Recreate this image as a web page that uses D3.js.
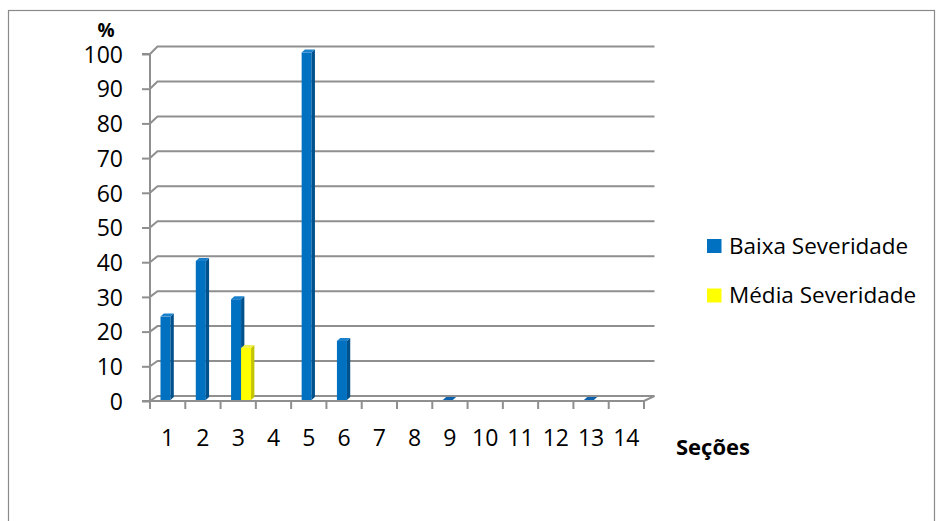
<!DOCTYPE html>
<html>
<head>
<meta charset="utf-8">
<script src="https://cdn.jsdelivr.net/npm/d3@7"></script>
<style>
  html, body { margin: 0; padding: 0; background: #fff; }
  svg { display: block; font-family: "Open Sans", "DejaVu Sans", sans-serif; }
</style>
</head>
<body>
<svg id="chart" width="936" height="521"></svg>
<script>
// Section numbers along the x axis
const categories = ["1","2","3","4","5","6","7","8","9","10","11","12","13","14"];
// Percentage of low-severity defects per section (null = no bar)
const baixa = [24, 40, 29, null, 100, 17, null, null, 0, null, null, null, 0, null];
// Percentage of medium-severity defects per section
const media = [null, null, 15, null, null, null, null, null, null, null, null, null, null, null];
const yTicks = [0, 10, 20, 30, 40, 50, 60, 70, 80, 90, 100];
const seriesNames = ["Baixa Severidade", "Média Severidade"];
const seriesColors = [
  { front: "#0070C0", side: "#00508c", top: "#1a80cc" },
  { front: "#FFFF00", side: "#c4c400", top: "#f0f050" }
];

const svg = d3.select("#chart");
const gridColor = "#8f8f8f";

// Chart frame
svg.append("rect")
  .attr("x", 8.5).attr("y", 10.5)
  .attr("width", 926).attr("height", 530)
  .attr("fill", "none").attr("stroke", "#8a8a8a").attr("stroke-width", 1.2);

// Scales: front plane, back wall, and bar plane (mid depth)
const x = d3.scaleBand().domain(categories).range([150, 644]).paddingInner(0).paddingOuter(0);
const yFront = d3.scaleLinear().domain([0, 100]).range([401, 54]);
const yBack = d3.scaleLinear().domain([0, 100]).range([396, 46.5]);
const yBar = d3.scaleLinear().domain([0, 100]).range([400, 52.5]);
const backLeft = 157.5, backRight = 654.5;
const frontLeft = 150, frontRight = 644;

// Back-wall gridlines with the diagonal link to the front axis
const grid = svg.append("g");
yTicks.forEach(v => {
  grid.append("polyline")
    .attr("points", `${frontLeft},${yFront(v)} ${backLeft},${yBack(v)} ${backRight},${yBack(v)}`)
    .attr("fill", "none").attr("stroke", gridColor).attr("stroke-width", 2);
});

// Floor: right diagonal edge and front edge
svg.append("polyline")
  .attr("points", `${backRight},${yBack(0)} ${frontRight},${yFront(0)} ${frontLeft},${yFront(0)}`)
  .attr("fill", "none").attr("stroke", gridColor).attr("stroke-width", 2);

// Front y axis
const yAxis = d3.axisLeft(yFront).tickValues(yTicks).tickSize(8).tickPadding(19);
const gy = svg.append("g").attr("transform", `translate(${frontLeft},0)`).call(yAxis);
gy.select(".domain").attr("stroke", gridColor).attr("stroke-width", 2).attr("d", `M-8,${yFront(0)}H0V${yFront(100)}H-8`);
gy.selectAll(".tick line").attr("stroke", gridColor).attr("stroke-width", 2);
gy.selectAll(".tick text").attr("font-size", 23).attr("fill", "#000")
  .attr("font-family", "'Open Sans', sans-serif").attr("dy", "0.36em");

// X axis labels at band centers
const xAxis = d3.axisBottom(x).tickSize(0);
const gx = svg.append("g").attr("transform", `translate(0,${yFront(0)})`).call(xAxis);
gx.select(".domain").remove();
gx.selectAll(".tick text").attr("font-size", 23).attr("fill", "#000")
  .attr("font-family", "'Open Sans', sans-serif").attr("y", 44.5).attr("dy", 0);

// X tick marks at band boundaries
const bounds = categories.map(c => x(c)).concat([x.range()[1]]);
svg.append("g").selectAll("line").data(bounds).join("line")
  .attr("x1", d => d).attr("x2", d => d)
  .attr("y1", yFront(0)).attr("y2", yFront(0) + 8)
  .attr("stroke", gridColor).attr("stroke-width", 2);

// 3D columns
const barW = 10, depthX = 3.3, depthY = 3;
const bars = svg.append("g");
[baixa, media].forEach((values, si) => {
  const col = seriesColors[si];
  const rows = categories.map((c, i) => ({ c, v: values[i] })).filter(d => d.v !== null);
  const g = bars.selectAll(null).data(rows).join("g");
  const x0 = d => x(d.c) + 10.5 + si * barW;
  const base = yBar(0);
  // front face
  g.filter(d => d.v > 0).append("rect")
    .attr("x", x0).attr("y", d => yBar(d.v))
    .attr("width", barW).attr("height", d => base - yBar(d.v))
    .attr("fill", col.front);
  // side face
  g.filter(d => d.v > 0).append("path")
    .attr("d", d => {
      const xa = x0(d) + barW, yt = yBar(d.v);
      return `M${xa},${yt}L${xa + depthX},${yt - depthY}L${xa + depthX},${base - depthY}L${xa},${base}Z`;
    })
    .attr("fill", col.side);
  // top face
  g.append("path")
    .attr("d", d => {
      const xa = x0(d), yt = yBar(d.v);
      return `M${xa},${yt}L${xa + barW},${yt}L${xa + barW + depthX},${yt - depthY}L${xa + depthX},${yt - depthY}Z`;
    })
    .attr("fill", d => d.v > 0 ? col.top : "#0a62ae");
});

// Axis titles
svg.append("text").attr("x", 106).attr("y", 37).attr("text-anchor", "middle")
  .attr("font-size", 19).attr("font-weight", "bold").text("%");
svg.append("text").attr("x", 676).attr("y", 455)
  .attr("font-size", 22).attr("font-weight", "bold").text("Seções");

// Legend
const legend = svg.append("g");
seriesNames.forEach((name, i) => {
  const yy = 239 + i * 49.5;
  legend.append("rect").attr("x", 707).attr("y", yy).attr("width", 14.5).attr("height", 14)
    .attr("fill", seriesColors[i].front);
  legend.append("text").attr("x", 729).attr("y", yy + 14.5)
    .attr("font-size", 22.5).attr("fill", "#000").text(name);
});
</script>
</body>
</html>
